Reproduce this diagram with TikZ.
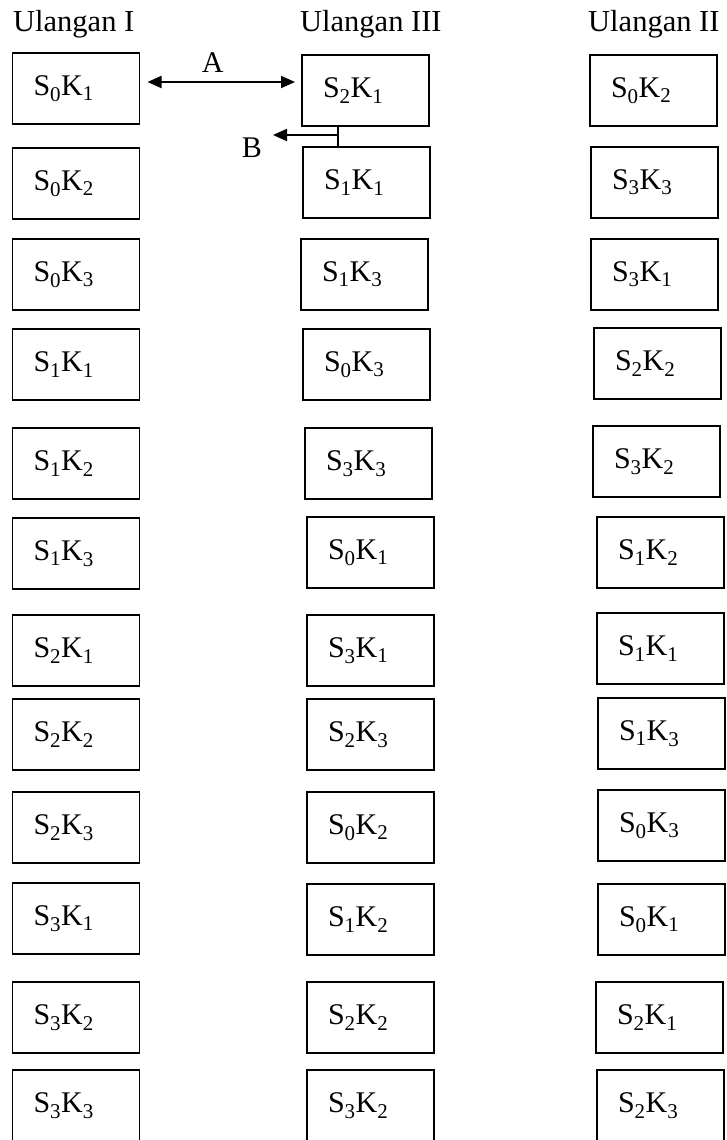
\documentclass[tikz,border=0pt]{standalone}
\usepackage{fontspec}
\setmainfont{Liberation Serif}
\usetikzlibrary{arrows.meta}
\newcommand{\SK}[2]{S\textsubscript{#1}K\textsubscript{#2}}

\begin{document}
\begin{tikzpicture}[x=1pt,y=-1pt,
  petak/.style={draw,line width=1.5pt,rectangle,anchor=north west,outer sep=0pt,
    minimum width=127pt,minimum height=71pt,text width=85pt,inner xsep=21pt,
    inner ysep=0pt,align=left,font=\fontsize{30}{36}\selectfont},
  judul/.style={anchor=base west,inner sep=0pt,font=\fontsize{30.5}{36}\selectfont},
  huruf/.style={inner sep=0pt,font=\fontsize{30}{36}\selectfont},
  panah/.style={line width=2pt,-{Triangle[length=14pt,width=12pt]}}]
  \useasboundingbox (0,0) rectangle (726,1140);

  % judul kolom
  \node[judul] (jdl1) at (13,32) {Ulangan I};
  \node[judul] (jdl3) at (300,32) {Ulangan III};
  \node[judul] (jdl2) at (588,32) {Ulangan II};

  % Ulangan I
  \foreach \y/\s/\k [count=\i] in {53/0/1,148/0/2,239/0/3,329/1/1,428/1/2,518/1/3,
      615/2/1,699/2/2,792/2/3,883/3/1,982/3/2,1070/3/3}
    \node[petak] (u1-\i) at (12.5,\y) {\SK{\s}{\k}};

  % Ulangan III
  \foreach \x/\y/\s/\k [count=\i] in {302/55/2/1,303/147/1/1,301/239/1/3,303/329/0/3,
      305/428/3/3,307/517/0/1,307/615/3/1,307/699/2/3,307/792/0/2,307/884/1/2,
      307/982/2/2,307/1070/3/2}
    \node[petak] (u3-\i) at (\x,\y) {\SK{\s}{\k}};

  % Ulangan II
  \foreach \x/\y/\s/\k [count=\i] in {590/55/0/2,591/147/3/3,591/239/3/1,594/328/2/2,
      593/426/3/2,597/517/1/2,597/613/1/1,598/698/1/3,598/790/0/3,598/884/0/1,
      596/982/2/1,597/1070/2/3}
    \node[petak] (u2-\i) at (\x,\y) {\SK{\s}{\k}};

  % A
  \draw[panah,{Triangle[length=14pt,width=12pt]}-{Triangle[length=14pt,width=12pt]},
    shorten <=8pt,shorten >=7pt]
    ([yshift=6.5pt]u1-1.east) -- ([yshift=8.5pt]u3-1.west)
    node[huruf,pos=0.45,anchor=base,yshift=9pt] {A};

  % B
  \coordinate (tB) at ([xshift=-27.5pt]u3-1.south);
  \draw[line width=1.5pt] (tB) -- (tB |- u3-2.north);
  \coordinate (cabangB) at (338,135);
  \coordinate (ujungB) at (273,135);
  \draw[panah] (cabangB) -- (ujungB);
  \node[huruf,anchor=north east] (lblB) at (262,138) {B};
\end{tikzpicture}
\end{document}
